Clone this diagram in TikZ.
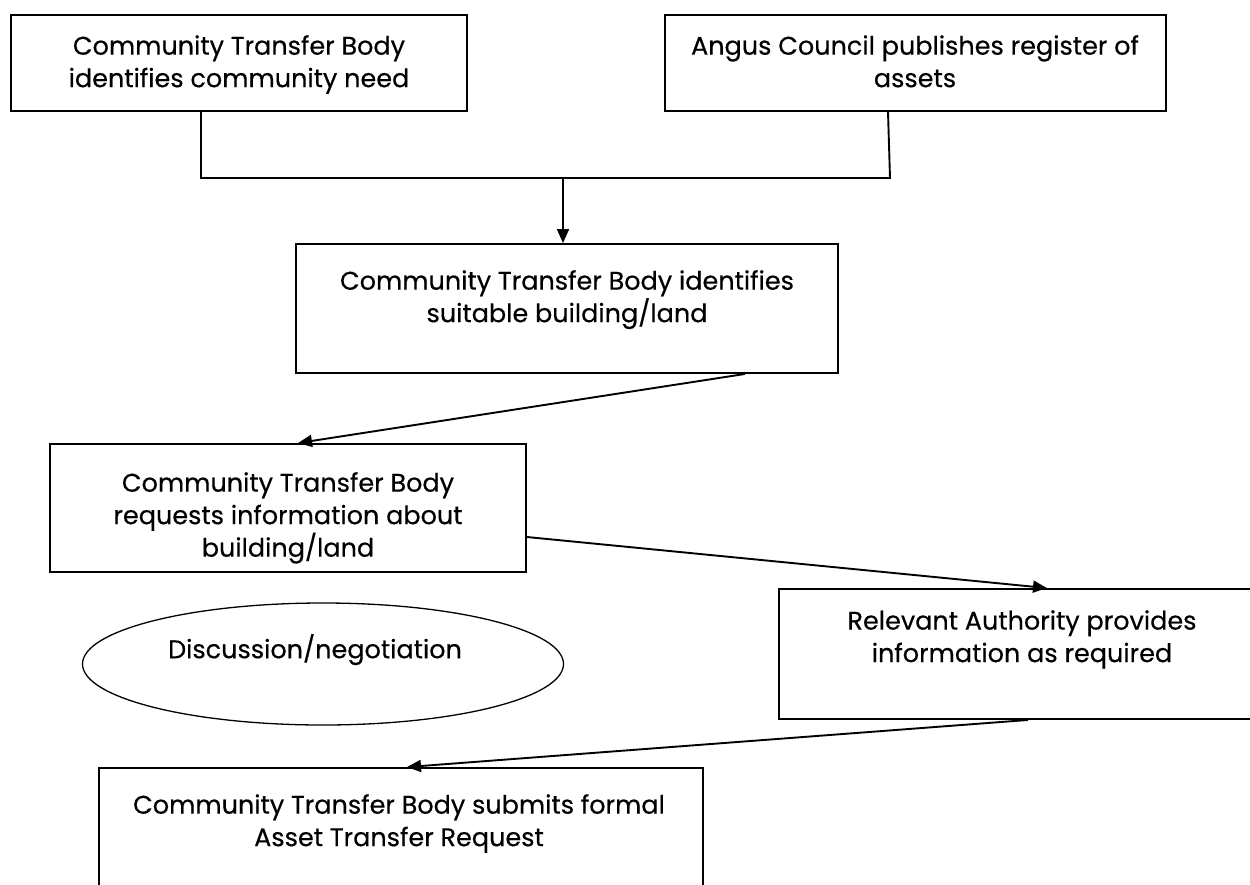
\documentclass[tikz,border=0pt]{standalone}
\usepackage{fontspec}
\setmainfont{Poppins}[FakeBold=0.4]
\usetikzlibrary{arrows.meta,shapes.geometric,calc}
\begin{document}
\begin{tikzpicture}[x=1pt,y=-1pt,
  box/.style={draw=black, line width=1.9pt, rectangle, inner sep=0pt},
  oval/.style={draw=black, line width=1.3pt, ellipse, inner sep=0pt},
  txt/.style={anchor=north, align=center, inner sep=0pt, font=\fontsize{25.5}{32.5}\selectfont},
  conn/.style={line width=1.9pt},
  arr/.style={conn, -{Triangle[length=14pt,width=12pt]}}]
\useasboundingbox (0,0) rectangle (1250,884);
\clip (0,0) rectangle (1250,884);
% boxes
\node[box, minimum width=456pt, minimum height=96pt] (A) at (239,63) {};
\node[box, minimum width=501pt, minimum height=96pt] (B) at (915.5,63) {};
\node[box, minimum width=542pt, minimum height=129pt] (C) at (567,308.5) {};
\node[box, minimum width=476pt, minimum height=128pt] (D) at (288,508) {};
\node[box, minimum width=486pt, minimum height=130pt] (E) at (1022,654) {};
\node[box, minimum width=604pt, minimum height=132pt] (F) at (401,834) {};
\node[oval, minimum width=481pt, minimum height=122pt] (G) at (323,664) {};
% texts
\node[txt] (tA) at (239,35) {Community Transfer Body\\identifies community need};
\node[txt] (tB) at (915,35) {Angus Council publishes register of\\assets};
\node[txt] (tC) at (567,270) {Community Transfer Body identifies\\suitable building/land};
\node[txt] (tD) at (288,472) {Community Transfer Body\\requests information about\\building/land};
\node[txt] (tE) at (1022,610) {Relevant Authority provides\\information as required};
\node[txt] (tF) at (399,794) {Community Transfer Body submits formal\\Asset Transfer Request};
\node[txt] (tG) at (315,634) {Discussion/negotiation};
% connector coordinates
\coordinate (a1) at (201,178);
\coordinate (b0) at (888,0);
\coordinate (b1) at (890,178);
\coordinate (j) at (563,178);
\coordinate (cd) at (745,0);
\coordinate (dd) at (298,0);
\coordinate (de) at (0,537);
\coordinate (ed) at (1047,0);
\coordinate (ef) at (1028,0);
\coordinate (fe) at (407,0);
% connectors
\draw[conn] (A.south -| a1) -- (a1) -- (b1) -- (B.south -| b0);
\draw[arr] (j) -- (C.north -| j);
\draw[arr] (C.south -| cd) -- (D.north -| dd);
\draw[arr] (D.east |- de) -- (E.north -| ed);
\draw[arr] (E.south -| ef) -- (F.north -| fe);
\end{tikzpicture}
\end{document}
